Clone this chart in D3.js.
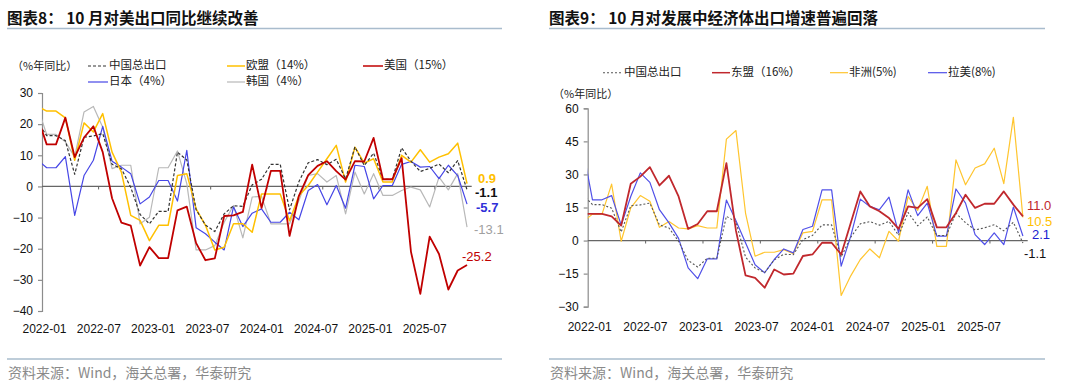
<!DOCTYPE html>
<html><head><meta charset="utf-8">
<script src="https://cdn.jsdelivr.net/npm/d3@7"></script>
<style>
html,body{margin:0;padding:0;background:#fff;}
svg{display:block;font-family:"Liberation Sans",Arial,"Noto Sans CJK SC",sans-serif;}
</style></head>
<body>
<svg id="c" width="1080" height="389"></svg>
<script>
// ---------- data (first entry 2021-12 is clipped at the axis) ----------
const months = ["2021-12",
 "2022-01","2022-02","2022-03","2022-04","2022-05","2022-06","2022-07","2022-08","2022-09","2022-10","2022-11","2022-12",
 "2023-01","2023-02","2023-03","2023-04","2023-05","2023-06","2023-07","2023-08","2023-09","2023-10","2023-11","2023-12",
 "2024-01","2024-02","2024-03","2024-04","2024-05","2024-06","2024-07","2024-08","2024-09","2024-10","2024-11","2024-12",
 "2025-01","2025-02","2025-03","2025-04","2025-05","2025-06","2025-07","2025-08","2025-09","2025-10"];
const xTickLabels = ["2022-01","2022-07","2023-01","2023-07","2024-01","2024-07","2025-01","2025-07"];

const chinaTotal = [20.9,
 16.3,16.3,14.7,3.9,15.8,16.2,17.0,7.1,5.7,-0.3,-9.0,-12.0,
 -8.0,-8.0,11.0,8.5,-7.5,-12.4,-14.5,-8.8,-6.2,-6.4,0.5,2.3,
 7.1,7.1,-7.5,1.5,7.6,8.6,7.0,8.7,2.4,12.7,6.7,10.7,
 2.3,2.3,12.4,8.1,4.8,5.8,7.2,4.4,8.3,-1.1];
const eu = [25.8,
 24.2,24.2,22.0,8.4,20.4,17.5,23.4,11.0,4.6,-9.3,-10.9,-17.4,
 -12.5,-12.5,3.5,4.1,-7.2,-12.5,-20.4,-19.5,-12.0,-12.0,-14.7,-2.4,
 -2.4,-2.4,-11.0,-3.0,0.3,4.6,8.9,13.2,1.4,12.6,7.5,8.9,
 1.4,1.4,10.0,7.8,11.8,7.8,9.4,10.5,13.9,0.9];
const us = [22.5,
 13.5,13.5,22.1,9.4,15.7,19.3,11.0,-3.8,-11.6,-12.6,-25.4,-19.5,
 -23.0,-23.0,-7.7,-6.5,-18.2,-23.7,-23.1,-9.5,-9.3,-8.2,7.0,-6.9,
 5.0,5.0,-15.9,-3.0,3.6,6.6,8.1,4.9,2.2,8.1,8.0,15.6,
 2.3,2.3,9.1,-21.0,-34.5,-16.1,-21.7,-33.1,-27.0,-25.2];
const japan = [8.6,
 6.0,6.0,9.6,-9.3,3.5,8.4,19.3,8.1,6.2,4.1,-5.6,-3.4,
 1.9,1.9,-4.7,11.6,-13.3,-15.2,-17.9,-20.4,-6.6,-12.9,-8.6,-7.2,
 -11.5,-11.5,-8.3,-10.7,-1.3,0.6,-5.9,0.3,-7.0,6.8,6.4,-4.0,
 0.3,0.3,7.1,8.0,6.2,6.4,2.5,6.8,3.5,-5.7];
const korea = [25.7,
 16.7,16.7,14.3,9.5,23.9,25.7,19.0,5.7,6.8,6.8,-12.0,-9.9,
 6.0,6.0,11.4,0.9,-20.4,-20.4,-19.0,-11.5,-6.1,-16.5,-3.4,-3.2,
 -12.0,-12.0,-12.0,-4.5,3.5,4.1,1.4,3.5,-8.8,4.6,-2.4,4.1,
 -2.9,-2.9,-1.3,-0.2,-1.1,-6.6,3.0,-1.1,4.1,-13.1];
const asean = [12.1,
 12.1,12.1,11.0,6.8,25.8,29.0,33.3,25.0,29.4,20.0,5.3,7.5,
 13.3,13.3,35.1,4.5,-15.8,-16.9,-21.4,-13.1,-15.4,-15.0,-7.0,-6.3,
 -1.0,-1.0,-6.3,8.0,22.3,15.5,13.3,10.2,5.3,15.5,14.8,18.8,
 6.0,6.0,12.5,20.8,14.8,16.7,16.7,22.3,16.3,11.0];
const africa = [8.6,
 12.0,12.0,25.6,-0.3,14.8,20.4,17.8,6.0,8.7,5.7,5.3,6.8,
 5.7,5.7,46.0,49.9,12.5,-7.1,-5.3,-5.3,-4.1,-5.9,3.5,4.2,
 18.5,18.5,-24.9,-16.0,-8.6,-3.8,-7.8,4.2,-0.3,20.0,13.7,24.6,
 -2.6,-2.6,36.6,25.3,32.9,34.8,41.9,25.8,55.9,10.5];
const latam = [41.5,
 18.5,18.5,20.4,7.0,20.0,30.7,26.4,14.0,8.0,1.0,-12.4,-17.3,
 -8.3,-8.3,18.4,9.0,-1.0,-11.0,-14.6,-8.6,-3.8,-5.6,5.0,6.5,
 23.0,23.0,-11.6,2.0,18.8,15.5,14.0,19.7,3.5,23.0,11.3,17.0,
 2.0,2.0,23.4,17.0,2.7,-1.8,3.5,-1.8,15.2,2.1];

const leftTicks = [30,20,10,0,-10,-20,-30,-40];
const rightTicks = [60,45,30,15,0,-15,-30];

const leftTitle = "图表8：  10 月对美出口同比继续改善";
const rightTitle = "图表9：  10 月对发展中经济体出口增速普遍回落";
const unitLabel = "（%年同比）";
const source = "资料来源：Wind，海关总署，华泰研究";

// ---------- drawing ----------
const svg = d3.select("#c");
const ruleColor = "#a9bccd";
const CJK = '"Noto Sans CJK SC","Liberation Sans",sans-serif';
const LAT = '"Liberation Sans",Arial,sans-serif';

function frame(x0, x1, title){
  svg.append("text").attr("x", x0).attr("y", 24).attr("font-family", CJK)
     .attr("font-weight", 700).attr("font-size", 15.5).attr("fill", "#111").text(title);
  svg.append("line").attr("x1", x0).attr("x2", x1).attr("y1", 28.5).attr("y2", 28.5)
     .attr("stroke", ruleColor).attr("stroke-width", 1.5);
  svg.append("line").attr("x1", x0).attr("x2", x1).attr("y1", 359).attr("y2", 359)
     .attr("stroke", ruleColor).attr("stroke-width", 1.5);
  svg.append("text").attr("x", x0 + 1).attr("y", 377.5).attr("font-family", CJK)
     .attr("font-size", 14).attr("fill", "#8a8a8a").text(source);
}

function panel(cfg){
  const x = d3.scaleLinear().domain([0.5, months.length - 0.5]).range([cfg.x0, cfg.x1]);
  const y = d3.scaleLinear().domain(cfg.yDomain).range(cfg.yRange);
  const g = svg.append("g");
  const clipId = "clip" + cfg.id;
  svg.append("clipPath").attr("id", clipId).append("rect")
     .attr("x", cfg.x0).attr("y", 0).attr("width", cfg.x1 - cfg.x0 + 2).attr("height", 389);

  // y axis
  const yAxis = d3.axisLeft(y).tickValues(cfg.yTicks).tickSize(4).tickPadding(5);
  const ya = g.append("g").attr("transform", `translate(${cfg.x0},0)`).call(yAxis);
  ya.select(".domain").attr("stroke", "#8c8c8c").attr("stroke-width", 1.2);
  ya.selectAll(".tick line").attr("stroke", "#8c8c8c").attr("stroke-width", 1.2);
  ya.selectAll("text").attr("font-family", LAT).attr("font-size", 12).attr("fill", "#111");

  // zero line with ticks
  const xa = d3.axisBottom(x).tickValues(d3.range(6.5, months.length, 6)).tickSize(3).tickFormat("");
  const xg = g.append("g").attr("transform", `translate(0,${y(0)})`).call(xa);
  xg.select(".domain").remove();
  xg.selectAll(".tick line").attr("stroke", "#707070").attr("stroke-width", 1.1);
  g.append("line").attr("x1", x.range()[0]).attr("x2", x.range()[1])
    .attr("y1", y(0)).attr("y2", y(0)).attr("stroke", "#666").attr("stroke-width", 1.3);

  // x labels
  const lx = d3.scalePoint().domain(xTickLabels).range(cfg.labelRange);
  g.selectAll(".xl").data(xTickLabels).enter().append("text")
    .attr("x", d => lx(d)).attr("y", cfg.labelY).attr("text-anchor", "middle")
    .attr("font-family", LAT).attr("font-size", 12).attr("fill", "#111").text(d => d);

  // series
  const line = d3.line().x((d, i) => x(i)).y(d => y(d));
  const lg = g.append("g").attr("clip-path", `url(#${clipId})`);
  cfg.series.forEach(s => {
    lg.append("path").attr("d", line(s.data)).attr("fill", "none")
      .attr("stroke", s.color).attr("stroke-width", s.width)
      .attr("stroke-dasharray", s.dash || null).attr("stroke-linejoin", "round");
  });

  // end labels
  const last = months.length - 1;
  cfg.series.forEach(s => {
    const v = s.data[last];
    g.append("text").attr("x", x(last) + s.lab.dx).attr("y", y(v) + s.lab.dy)
      .attr("dominant-baseline", "middle").attr("font-family", LAT)
      .attr("font-size", 13).attr("font-weight", s.lab.bold ? 700 : 400)
      .attr("fill", s.lab.color).text(v.toFixed(1));
  });

  // unit label
  svg.append("text").attr("x", cfg.unit[0]).attr("y", cfg.unit[1]).attr("dominant-baseline", "middle")
    .attr("font-family", CJK).attr("font-size", 11).attr("fill", "#222").text(unitLabel);

  // legend
  cfg.legend.forEach(it => {
    const s = it.s;
    svg.append("line").attr("x1", it.x).attr("x2", it.x + it.w).attr("y1", it.y).attr("y2", it.y)
      .attr("stroke", s.color).attr("stroke-width", Math.min(s.width, 1.5)).attr("stroke-dasharray", s.dash || null);
    svg.append("text").attr("x", it.x + it.w + 1).attr("y", it.y).attr("dominant-baseline", "middle")
      .attr("font-family", CJK).attr("font-size", 11.5).attr("fill", "#222").text(s.name);
  });
}

frame(7, 502, leftTitle);
frame(549, 1045, rightTitle);

const sChinaL = {name:"中国总出口", data:chinaTotal, color:"#333", width:1.2, dash:"3,2", lab:{dx:8,dy:3.5,color:"#111",bold:true}};
const sEU = {name:"欧盟（14%）", data:eu, color:"#ffc000", width:1.5, lab:{dx:11,dy:-4.5,color:"#ffc000",bold:true}};
const sUS = {name:"美国（15%）", data:us, color:"#c00000", width:1.8, lab:{dx:-5,dy:-7,color:"#c00000",bold:false}};
const sJP = {name:"日本（4%）", data:japan, color:"#4646e6", width:1.2, lab:{dx:9,dy:4.8,color:"#2f2fd8",bold:true}};
const sKR = {name:"韩国（4%）", data:korea, color:"#b8b8b8", width:1.2, lab:{dx:7,dy:3,color:"#a0a0a0",bold:false}};

panel({
  id:"L", x0:42, x1:471.7, yDomain:[-40,30], yRange:[311,93], yTicks:leftTicks,
  labelRange:[44.5,424.7], labelY:333,
  series:[sKR, sJP, sEU, sChinaL, sUS],
  unit:[12,67],
  legend:[
    {s:sChinaL, x:88, y:66, w:20},
    {s:sEU, x:227, y:66, w:18},
    {s:sUS, x:363, y:66, w:20},
    {s:sJP, x:88, y:82, w:20},
    {s:sKR, x:227, y:82, w:18}
  ]
});

const sChinaR = {name:"中国总出口", data:chinaTotal, color:"#555", width:1.1, dash:"2,2", lab:{dx:1,dy:12,color:"#111",bold:false}};
const sAS = {name:"东盟（16%）", data:asean, color:"#c0282d", width:1.8, lab:{dx:4,dy:-9.3,color:"#c0282d",bold:false}};
const sAF = {name:"非洲(5%)", data:africa, color:"#ffc52e", width:1.2, lab:{dx:4,dy:5.6,color:"#ffc000",bold:false}};
const sLA = {name:"拉美(8%)", data:latam, color:"#5050e8", width:1.2, lab:{dx:9,dy:0,color:"#2020d0",bold:false}};

panel({
  id:"R", x0:587.7, x1:1027.7, yDomain:[-30,60], yRange:[306.7,108.3], yTicks:rightTicks,
  labelRange:[589.7,979], labelY:331,
  series:[sAF, sLA, sChinaR, sAS],
  unit:[553,95],
  legend:[
    {s:sChinaR, x:603, y:72.7, w:20},
    {s:sAS, x:712, y:72.7, w:18},
    {s:sAF, x:830, y:72.7, w:18},
    {s:sLA, x:928, y:72.7, w:19}
  ]
});
</script>
</body></html>
